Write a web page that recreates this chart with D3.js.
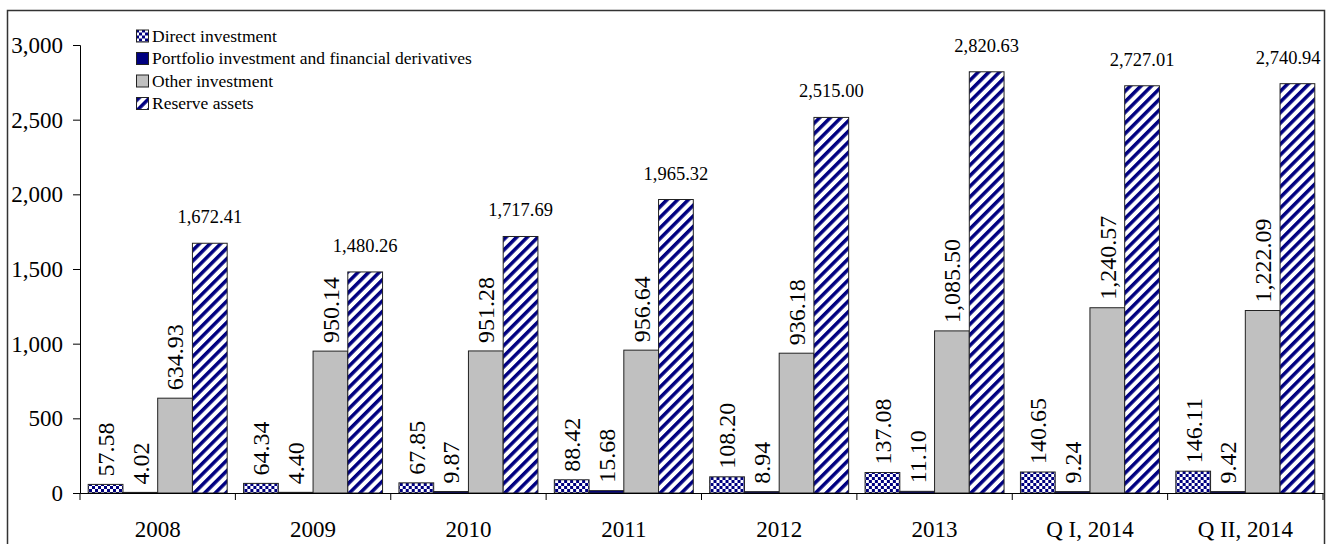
<!DOCTYPE html>
<html>
<head>
<meta charset="utf-8">
<script src="https://cdn.jsdelivr.net/npm/d3@7"></script>
<style>
  body { margin: 0; background: #fff; }
  svg, svg text { font-family: 'Liberation Serif', 'Times New Roman', 'DejaVu Serif', serif; }
</style>
</head>
<body>
<div id="chart"></div>
<script>
// categories and series
const periods = ['2008', '2009', '2010', '2011', '2012', '2013', 'Q I, 2014', 'Q II, 2014']
const seriesNames = ['Direct investment', 'Portfolio investment and financial derivatives', 'Other investment', 'Reserve assets']
const directInvestment = [57.58, 64.34, 67.85, 88.42, 108.20, 137.08, 140.65, 146.11]
const portfolioInvestment = [4.02, 4.40, 9.87, 15.68, 8.94, 11.10, 9.24, 9.42]
const otherInvestment = [634.93, 950.14, 951.28, 956.64, 936.18, 1085.50, 1240.57, 1222.09]
const reserveAssets = [1672.41, 1480.26, 1717.69, 1965.32, 2515.00, 2820.63, 2727.01, 2740.94]
const yTicks = [0, 500, 1000, 1500, 2000, 2500, 3000]

const series = [directInvestment, portfolioInvestment, otherInvestment, reserveAssets]
const fills = ['url(#checks)', '#000080', '#c0c0c0', 'url(#stripes)']

const size = { width: 1335, height: 544 }
const plot = { left: 80, right: 1323, top: 45, bottom: 493 }
const frameRight = 1324.5

const svg = d3.select('#chart')
.append('svg')
.attr('width', size.width)
.attr('height', size.height)

// patterns for the hatched bars
const defs = svg.append('defs')
const checks = defs.append('pattern')
.attr('id', 'checks')
.attr('width', 6)
.attr('height', 6)
.attr('patternUnits', 'userSpaceOnUse')
checks.append('rect').attr('width', 6).attr('height', 6).attr('fill', '#fff')
checks.append('rect').attr('width', 3).attr('height', 3).attr('fill', '#000080')
checks.append('rect').attr('x', 3).attr('y', 3).attr('width', 3).attr('height', 3).attr('fill', '#000080')

const stripes = defs.append('pattern')
.attr('id', 'stripes')
.attr('width', 7.5)
.attr('height', 7.5)
.attr('patternUnits', 'userSpaceOnUse')
.attr('patternTransform', 'rotate(45)')
stripes.append('rect').attr('width', 7.5).attr('height', 7.5).attr('fill', '#fff')
stripes.append('rect').attr('width', 3.5).attr('height', 7.5).attr('fill', '#000080')

// outer frame
svg.append('rect')
.attr('x', 7.5)
.attr('y', 10.5)
.attr('width', frameRight - 7.5)
.attr('height', 600)
.attr('fill', 'none')
.attr('stroke', '#333')
.attr('stroke-width', 1.5)

const x = d3.scaleBand()
.domain(periods)
.range([plot.left, plot.right])

const xInner = d3.scaleBand()
.domain(d3.range(series.length))
.range([0, x.bandwidth()])
.paddingOuter(0.236)

const y = d3.scaleLinear()
.domain([0, 3000])
.range([plot.bottom, plot.top])

// y axis
const yAxis = svg.append('g')
.attr('transform', `translate(${plot.left},0)`)
.call(d3.axisLeft(y).tickValues(yTicks).tickFormat(d3.format(',')).tickSize(7).tickPadding(10))
yAxis.attr('font-family', null)
yAxis.select('.domain').attr('stroke', '#000')
yAxis.selectAll('.tick line').attr('stroke', '#000')
yAxis.selectAll('.tick text')
.attr('font-size', '23px')
.attr('fill', '#000')

// bars
const groups = svg.append('g')
.selectAll('g')
.data(periods)
.enter()
.append('g')
.attr('transform', d => `translate(${x(d)},0)`)

groups.selectAll('rect')
.data((d, i) => series.map((s, k) => ({ k, v: s[i] })))
.enter()
.append('rect')
.attr('x', d => xInner(d.k))
.attr('width', xInner.bandwidth())
.attr('y', d => y(d.v))
.attr('height', d => y(0) - y(d.v))
.attr('fill', d => fills[d.k])
.attr('stroke', '#222')
.attr('stroke-width', 1)

// value labels: rotated for first three series, horizontal for reserve assets
const fmt = d3.format(',.2f')
groups.selectAll('text.rot')
.data((d, i) => series.slice(0, 3).map((s, k) => ({ k, v: s[i] })))
.enter()
.append('text')
.attr('class', 'rot')
.attr('transform', d => `translate(${xInner(d.k) + xInner.bandwidth() / 2},${y(d.v) - 8}) rotate(-90)`)
.attr('dy', '0.35em')
.attr('font-size', '24px')
.attr('fill', '#000')
.text(d => fmt(d.v))

groups.append('text')
.attr('class', 'top')
.attr('x', xInner(3) + xInner.bandwidth() / 2)
.attr('y', (d, i) => y(reserveAssets[i]) - 20)
.attr('text-anchor', 'middle')
.attr('font-size', '18.5px')
.attr('fill', '#000')
.text((d, i) => fmt(reserveAssets[i]))

// keep the last label inside the frame, like the original
groups.selectAll('text.top').each(function(d) {
  const w = this.getComputedTextLength()
  const cx = x(d) + xInner(3) + xInner.bandwidth() / 2
  const over = cx + w / 2 - (frameRight - 4)
  if (over > 0) d3.select(this).attr('x', xInner(3) + xInner.bandwidth() / 2 - over)
})

// x axis
const xAxis = svg.append('g')
.attr('transform', `translate(0,${plot.bottom})`)
.call(d3.axisBottom(x).tickSize(0).tickPadding(28))
xAxis.attr('font-family', null)
xAxis.select('.domain').attr('stroke', '#000')
xAxis.selectAll('.tick text')
.attr('font-size', '23px')
.attr('fill', '#000')

svg.append('g')
.selectAll('line')
.data(periods.concat(['end']))
.enter()
.append('line')
.attr('x1', (d, i) => i < periods.length ? x(d) : plot.right)
.attr('x2', (d, i) => i < periods.length ? x(d) : plot.right)
.attr('y1', plot.bottom)
.attr('y2', plot.bottom + 7)
.attr('stroke', '#000')

// legend
const legend = svg.append('g')
.selectAll('g')
.data(seriesNames)
.enter()
.append('g')
.attr('transform', (d, i) => `translate(136,${41.5 + i * 22.5})`)

legend.append('rect')
.attr('x', 0.5)
.attr('y', -11.5)
.attr('width', 12)
.attr('height', 12)
.attr('fill', (d, i) => fills[i])
.attr('stroke', '#222')

legend.append('text')
.attr('x', 16)
.attr('font-size', '17.5px')
.attr('fill', '#000')
.text(d => d)
</script>
</body>
</html>
